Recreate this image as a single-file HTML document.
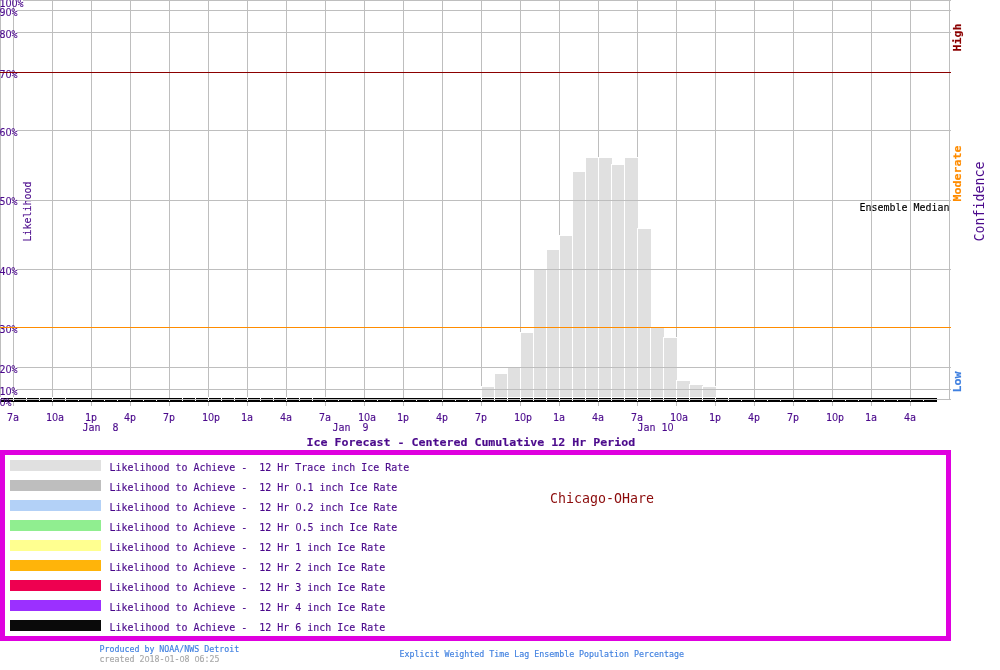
<!DOCTYPE html>
<html lang="en"><head><meta charset="utf-8"><title>Ice Forecast - Chicago-OHare</title>
<style>html,body{margin:0;padding:0;background:#fff;overflow:hidden}svg{display:block;position:absolute;left:0;top:0}text{font-family:'DejaVu Sans Mono','Liberation Mono',monospace;white-space:pre}</style></head><body>
<svg width="1000" height="670" viewBox="0 0 1000 670">
<rect x="0" y="0" width="1000" height="670" fill="#fff"/>
<g shape-rendering="crispEdges">
<rect x="0" y="0" width="1" height="400" fill="#bebebe"/>
<rect x="13" y="0" width="1" height="406" fill="#bebebe"/>
<rect x="52" y="0" width="1" height="406" fill="#bebebe"/>
<rect x="91" y="0" width="1" height="406" fill="#bebebe"/>
<rect x="130" y="0" width="1" height="406" fill="#bebebe"/>
<rect x="169" y="0" width="1" height="406" fill="#bebebe"/>
<rect x="208" y="0" width="1" height="406" fill="#bebebe"/>
<rect x="247" y="0" width="1" height="406" fill="#bebebe"/>
<rect x="286" y="0" width="1" height="406" fill="#bebebe"/>
<rect x="325" y="0" width="1" height="406" fill="#bebebe"/>
<rect x="364" y="0" width="1" height="406" fill="#bebebe"/>
<rect x="403" y="0" width="1" height="406" fill="#bebebe"/>
<rect x="442" y="0" width="1" height="406" fill="#bebebe"/>
<rect x="481" y="0" width="1" height="406" fill="#bebebe"/>
<rect x="520" y="0" width="1" height="406" fill="#bebebe"/>
<rect x="559" y="0" width="1" height="406" fill="#bebebe"/>
<rect x="598" y="0" width="1" height="406" fill="#bebebe"/>
<rect x="637" y="0" width="1" height="406" fill="#bebebe"/>
<rect x="676" y="0" width="1" height="406" fill="#bebebe"/>
<rect x="715" y="0" width="1" height="406" fill="#bebebe"/>
<rect x="754" y="0" width="1" height="406" fill="#bebebe"/>
<rect x="793" y="0" width="1" height="406" fill="#bebebe"/>
<rect x="832" y="0" width="1" height="406" fill="#bebebe"/>
<rect x="871" y="0" width="1" height="406" fill="#bebebe"/>
<rect x="910" y="0" width="1" height="406" fill="#bebebe"/>
<rect x="949" y="0" width="1" height="400" fill="#bebebe"/>
<rect x="0" y="397" width="14" height="1" fill="#fff"/>
<rect x="13" y="397" width="14" height="1" fill="#fff"/>
<rect x="26" y="397" width="14" height="1" fill="#fff"/>
<rect x="39" y="397" width="14" height="1" fill="#fff"/>
<rect x="52" y="397" width="14" height="1" fill="#fff"/>
<rect x="65" y="397" width="14" height="1" fill="#fff"/>
<rect x="182" y="397" width="14" height="1" fill="#fff"/>
<rect x="195" y="397" width="14" height="1" fill="#fff"/>
<rect x="208" y="397" width="14" height="1" fill="#fff"/>
<rect x="221" y="397" width="14" height="1" fill="#fff"/>
<rect x="234" y="397" width="14" height="1" fill="#fff"/>
<rect x="247" y="397" width="14" height="1" fill="#fff"/>
<rect x="260" y="397" width="14" height="1" fill="#fff"/>
<rect x="273" y="397" width="14" height="1" fill="#fff"/>
<rect x="286" y="397" width="14" height="1" fill="#fff"/>
<rect x="299" y="397" width="14" height="1" fill="#fff"/>
<rect x="312" y="397" width="14" height="1" fill="#fff"/>
<rect x="481" y="386" width="1" height="15" fill="#fff"/>
<rect x="481" y="386" width="14" height="1" fill="#fff"/>
<rect x="482" y="387" width="13" height="10" fill="#e0e0e0"/>
<rect x="494" y="373" width="1" height="28" fill="#fff"/>
<rect x="494" y="373" width="14" height="1" fill="#fff"/>
<rect x="495" y="374" width="13" height="23" fill="#e0e0e0"/>
<rect x="507" y="367" width="1" height="34" fill="#fff"/>
<rect x="507" y="367" width="14" height="1" fill="#fff"/>
<rect x="508" y="368" width="13" height="29" fill="#e0e0e0"/>
<rect x="520" y="332" width="1" height="69" fill="#fff"/>
<rect x="520" y="332" width="14" height="1" fill="#fff"/>
<rect x="521" y="333" width="13" height="64" fill="#e0e0e0"/>
<rect x="533" y="269" width="1" height="132" fill="#fff"/>
<rect x="533" y="269" width="14" height="1" fill="#fff"/>
<rect x="534" y="270" width="13" height="127" fill="#e0e0e0"/>
<rect x="546" y="249" width="1" height="152" fill="#fff"/>
<rect x="546" y="249" width="14" height="1" fill="#fff"/>
<rect x="547" y="250" width="13" height="147" fill="#e0e0e0"/>
<rect x="559" y="235" width="1" height="166" fill="#fff"/>
<rect x="559" y="235" width="14" height="1" fill="#fff"/>
<rect x="560" y="236" width="13" height="161" fill="#e0e0e0"/>
<rect x="572" y="171" width="1" height="230" fill="#fff"/>
<rect x="572" y="171" width="14" height="1" fill="#fff"/>
<rect x="573" y="172" width="13" height="225" fill="#e0e0e0"/>
<rect x="585" y="157" width="1" height="244" fill="#fff"/>
<rect x="585" y="157" width="14" height="1" fill="#fff"/>
<rect x="586" y="158" width="13" height="239" fill="#e0e0e0"/>
<rect x="598" y="157" width="1" height="244" fill="#fff"/>
<rect x="598" y="157" width="14" height="1" fill="#fff"/>
<rect x="599" y="158" width="13" height="239" fill="#e0e0e0"/>
<rect x="611" y="164" width="1" height="237" fill="#fff"/>
<rect x="611" y="164" width="14" height="1" fill="#fff"/>
<rect x="612" y="165" width="13" height="232" fill="#e0e0e0"/>
<rect x="624" y="157" width="1" height="244" fill="#fff"/>
<rect x="624" y="157" width="14" height="1" fill="#fff"/>
<rect x="625" y="158" width="13" height="239" fill="#e0e0e0"/>
<rect x="637" y="228" width="1" height="173" fill="#fff"/>
<rect x="637" y="228" width="14" height="1" fill="#fff"/>
<rect x="638" y="229" width="13" height="168" fill="#e0e0e0"/>
<rect x="650" y="327" width="1" height="74" fill="#fff"/>
<rect x="650" y="327" width="14" height="1" fill="#fff"/>
<rect x="651" y="328" width="13" height="69" fill="#e0e0e0"/>
<rect x="663" y="337" width="1" height="64" fill="#fff"/>
<rect x="663" y="337" width="14" height="1" fill="#fff"/>
<rect x="664" y="338" width="13" height="59" fill="#e0e0e0"/>
<rect x="676" y="380" width="1" height="21" fill="#fff"/>
<rect x="676" y="380" width="14" height="1" fill="#fff"/>
<rect x="677" y="381" width="13" height="16" fill="#e0e0e0"/>
<rect x="689" y="384" width="1" height="17" fill="#fff"/>
<rect x="689" y="384" width="14" height="1" fill="#fff"/>
<rect x="690" y="385" width="13" height="12" fill="#e0e0e0"/>
<rect x="702" y="386" width="1" height="15" fill="#fff"/>
<rect x="702" y="386" width="14" height="1" fill="#fff"/>
<rect x="703" y="387" width="13" height="10" fill="#e0e0e0"/>
<rect x="715" y="397" width="14" height="1" fill="#fff"/>
<rect x="728" y="397" width="14" height="1" fill="#fff"/>
</g>
<text transform="translate(31,241.5) rotate(-90) scale(0.9082,1)" font-size="10.974" fill="#4b0a8c" stroke="#4b0a8c" stroke-width="0.15" xml:space="preserve">Likelihood</text>
<g shape-rendering="crispEdges">
<rect x="23" y="0" width="928" height="1" fill="#bebebe"/>
<rect x="17" y="10" width="934" height="1" fill="#bebebe"/>
<rect x="17" y="32" width="934" height="1" fill="#bebebe"/>
<rect x="17" y="130" width="934" height="1" fill="#bebebe"/>
<rect x="17" y="200" width="934" height="1" fill="#bebebe"/>
<rect x="17" y="269" width="934" height="1" fill="#bebebe"/>
<rect x="17" y="367" width="934" height="1" fill="#bebebe"/>
<rect x="17" y="389" width="934" height="1" fill="#bebebe"/>
<rect x="0" y="399" width="951" height="1" fill="#bebebe"/>
</g>
<g shape-rendering="crispEdges">
<rect x="1" y="398" width="936" height="1" fill="#000"/>
<rect x="1" y="400" width="936" height="2" fill="#000"/>
<rect x="0" y="398" width="1" height="1" fill="#fff"/>
<rect x="0" y="400" width="1" height="1" fill="#fff"/>
<rect x="13" y="398" width="1" height="1" fill="#fff"/>
<rect x="13" y="400" width="1" height="1" fill="#fff"/>
<rect x="26" y="398" width="1" height="1" fill="#fff"/>
<rect x="26" y="400" width="1" height="1" fill="#fff"/>
<rect x="39" y="398" width="1" height="1" fill="#fff"/>
<rect x="39" y="400" width="1" height="1" fill="#fff"/>
<rect x="52" y="398" width="1" height="1" fill="#fff"/>
<rect x="52" y="400" width="1" height="1" fill="#fff"/>
<rect x="65" y="398" width="1" height="1" fill="#fff"/>
<rect x="65" y="400" width="1" height="1" fill="#fff"/>
<rect x="78" y="400" width="1" height="1" fill="#fff"/>
<rect x="91" y="400" width="1" height="1" fill="#fff"/>
<rect x="104" y="400" width="1" height="1" fill="#fff"/>
<rect x="117" y="400" width="1" height="1" fill="#fff"/>
<rect x="130" y="400" width="1" height="1" fill="#fff"/>
<rect x="143" y="400" width="1" height="1" fill="#fff"/>
<rect x="156" y="400" width="1" height="1" fill="#fff"/>
<rect x="169" y="400" width="1" height="1" fill="#fff"/>
<rect x="182" y="398" width="1" height="1" fill="#fff"/>
<rect x="182" y="400" width="1" height="1" fill="#fff"/>
<rect x="195" y="398" width="1" height="1" fill="#fff"/>
<rect x="195" y="400" width="1" height="1" fill="#fff"/>
<rect x="208" y="398" width="1" height="1" fill="#fff"/>
<rect x="208" y="400" width="1" height="1" fill="#fff"/>
<rect x="221" y="398" width="1" height="1" fill="#fff"/>
<rect x="221" y="400" width="1" height="1" fill="#fff"/>
<rect x="234" y="398" width="1" height="1" fill="#fff"/>
<rect x="234" y="400" width="1" height="1" fill="#fff"/>
<rect x="247" y="398" width="1" height="1" fill="#fff"/>
<rect x="247" y="400" width="1" height="1" fill="#fff"/>
<rect x="260" y="398" width="1" height="1" fill="#fff"/>
<rect x="260" y="400" width="1" height="1" fill="#fff"/>
<rect x="273" y="398" width="1" height="1" fill="#fff"/>
<rect x="273" y="400" width="1" height="1" fill="#fff"/>
<rect x="286" y="398" width="1" height="1" fill="#fff"/>
<rect x="286" y="400" width="1" height="1" fill="#fff"/>
<rect x="299" y="398" width="1" height="1" fill="#fff"/>
<rect x="299" y="400" width="1" height="1" fill="#fff"/>
<rect x="312" y="398" width="1" height="1" fill="#fff"/>
<rect x="312" y="400" width="1" height="1" fill="#fff"/>
<rect x="325" y="400" width="1" height="1" fill="#fff"/>
<rect x="338" y="400" width="1" height="1" fill="#fff"/>
<rect x="351" y="400" width="1" height="1" fill="#fff"/>
<rect x="364" y="400" width="1" height="1" fill="#fff"/>
<rect x="377" y="400" width="1" height="1" fill="#fff"/>
<rect x="390" y="400" width="1" height="1" fill="#fff"/>
<rect x="403" y="400" width="1" height="1" fill="#fff"/>
<rect x="416" y="400" width="1" height="1" fill="#fff"/>
<rect x="429" y="400" width="1" height="1" fill="#fff"/>
<rect x="442" y="400" width="1" height="1" fill="#fff"/>
<rect x="455" y="400" width="1" height="1" fill="#fff"/>
<rect x="468" y="400" width="1" height="1" fill="#fff"/>
<rect x="481" y="398" width="1" height="1" fill="#fff"/>
<rect x="481" y="400" width="1" height="1" fill="#fff"/>
<rect x="494" y="398" width="1" height="1" fill="#fff"/>
<rect x="494" y="400" width="1" height="1" fill="#fff"/>
<rect x="507" y="398" width="1" height="1" fill="#fff"/>
<rect x="507" y="400" width="1" height="1" fill="#fff"/>
<rect x="520" y="398" width="1" height="1" fill="#fff"/>
<rect x="520" y="400" width="1" height="1" fill="#fff"/>
<rect x="533" y="398" width="1" height="1" fill="#fff"/>
<rect x="533" y="400" width="1" height="1" fill="#fff"/>
<rect x="546" y="398" width="1" height="1" fill="#fff"/>
<rect x="546" y="400" width="1" height="1" fill="#fff"/>
<rect x="559" y="398" width="1" height="1" fill="#fff"/>
<rect x="559" y="400" width="1" height="1" fill="#fff"/>
<rect x="572" y="398" width="1" height="1" fill="#fff"/>
<rect x="572" y="400" width="1" height="1" fill="#fff"/>
<rect x="585" y="398" width="1" height="1" fill="#fff"/>
<rect x="585" y="400" width="1" height="1" fill="#fff"/>
<rect x="598" y="398" width="1" height="1" fill="#fff"/>
<rect x="598" y="400" width="1" height="1" fill="#fff"/>
<rect x="611" y="398" width="1" height="1" fill="#fff"/>
<rect x="611" y="400" width="1" height="1" fill="#fff"/>
<rect x="624" y="398" width="1" height="1" fill="#fff"/>
<rect x="624" y="400" width="1" height="1" fill="#fff"/>
<rect x="637" y="398" width="1" height="1" fill="#fff"/>
<rect x="637" y="400" width="1" height="1" fill="#fff"/>
<rect x="650" y="398" width="1" height="1" fill="#fff"/>
<rect x="650" y="400" width="1" height="1" fill="#fff"/>
<rect x="663" y="398" width="1" height="1" fill="#fff"/>
<rect x="663" y="400" width="1" height="1" fill="#fff"/>
<rect x="676" y="398" width="1" height="1" fill="#fff"/>
<rect x="676" y="400" width="1" height="1" fill="#fff"/>
<rect x="689" y="398" width="1" height="1" fill="#fff"/>
<rect x="689" y="400" width="1" height="1" fill="#fff"/>
<rect x="702" y="398" width="1" height="1" fill="#fff"/>
<rect x="702" y="400" width="1" height="1" fill="#fff"/>
<rect x="715" y="398" width="1" height="1" fill="#fff"/>
<rect x="715" y="400" width="1" height="1" fill="#fff"/>
<rect x="728" y="398" width="1" height="1" fill="#fff"/>
<rect x="728" y="400" width="1" height="1" fill="#fff"/>
<rect x="741" y="400" width="1" height="1" fill="#fff"/>
<rect x="754" y="400" width="1" height="1" fill="#fff"/>
<rect x="767" y="400" width="1" height="1" fill="#fff"/>
<rect x="780" y="400" width="1" height="1" fill="#fff"/>
<rect x="793" y="400" width="1" height="1" fill="#fff"/>
<rect x="806" y="400" width="1" height="1" fill="#fff"/>
<rect x="819" y="400" width="1" height="1" fill="#fff"/>
<rect x="832" y="400" width="1" height="1" fill="#fff"/>
<rect x="845" y="400" width="1" height="1" fill="#fff"/>
<rect x="858" y="400" width="1" height="1" fill="#fff"/>
<rect x="871" y="400" width="1" height="1" fill="#fff"/>
<rect x="884" y="400" width="1" height="1" fill="#fff"/>
<rect x="897" y="400" width="1" height="1" fill="#fff"/>
<rect x="910" y="400" width="1" height="1" fill="#fff"/>
<rect x="923" y="400" width="1" height="1" fill="#fff"/>
</g>
<text transform="translate(-0.5,7) scale(0.9082,1)" font-size="10.974" fill="#4b0a8c" stroke="#4b0a8c" stroke-width="0.15" xml:space="preserve">1<tspan x="6.802" font-family="'Liberation Sans','DejaVu Sans',sans-serif" font-size="11.173">0</tspan><tspan x="13.409" font-family="'Liberation Sans','DejaVu Sans',sans-serif" font-size="11.173">0</tspan><tspan x="19.819">%</tspan></text>
<text transform="translate(-0.5,16) scale(0.9082,1)" font-size="10.974" fill="#4b0a8c" stroke="#4b0a8c" stroke-width="0.15" xml:space="preserve">9<tspan x="6.802" font-family="'Liberation Sans','DejaVu Sans',sans-serif" font-size="11.173">0</tspan><tspan x="13.213">%</tspan></text>
<text transform="translate(-0.5,38) scale(0.9082,1)" font-size="10.974" fill="#4b0a8c" stroke="#4b0a8c" stroke-width="0.15" xml:space="preserve">8<tspan x="6.802" font-family="'Liberation Sans','DejaVu Sans',sans-serif" font-size="11.173">0</tspan><tspan x="13.213">%</tspan></text>
<text transform="translate(-0.5,78) scale(0.9082,1)" font-size="10.974" fill="#4b0a8c" stroke="#4b0a8c" stroke-width="0.15" xml:space="preserve">7<tspan x="6.802" font-family="'Liberation Sans','DejaVu Sans',sans-serif" font-size="11.173">0</tspan><tspan x="13.213">%</tspan></text>
<text transform="translate(-0.5,136) scale(0.9082,1)" font-size="10.974" fill="#4b0a8c" stroke="#4b0a8c" stroke-width="0.15" xml:space="preserve">6<tspan x="6.802" font-family="'Liberation Sans','DejaVu Sans',sans-serif" font-size="11.173">0</tspan><tspan x="13.213">%</tspan></text>
<text transform="translate(-0.5,205) scale(0.9082,1)" font-size="10.974" fill="#4b0a8c" stroke="#4b0a8c" stroke-width="0.15" xml:space="preserve">5<tspan x="6.802" font-family="'Liberation Sans','DejaVu Sans',sans-serif" font-size="11.173">0</tspan><tspan x="13.213">%</tspan></text>
<text transform="translate(-0.5,275) scale(0.9082,1)" font-size="10.974" fill="#4b0a8c" stroke="#4b0a8c" stroke-width="0.15" xml:space="preserve">4<tspan x="6.802" font-family="'Liberation Sans','DejaVu Sans',sans-serif" font-size="11.173">0</tspan><tspan x="13.213">%</tspan></text>
<text transform="translate(-0.5,333) scale(0.9082,1)" font-size="10.974" fill="#4b0a8c" stroke="#4b0a8c" stroke-width="0.15" xml:space="preserve">3<tspan x="6.802" font-family="'Liberation Sans','DejaVu Sans',sans-serif" font-size="11.173">0</tspan><tspan x="13.213">%</tspan></text>
<text transform="translate(-0.5,373) scale(0.9082,1)" font-size="10.974" fill="#4b0a8c" stroke="#4b0a8c" stroke-width="0.15" xml:space="preserve">2<tspan x="6.802" font-family="'Liberation Sans','DejaVu Sans',sans-serif" font-size="11.173">0</tspan><tspan x="13.213">%</tspan></text>
<text transform="translate(-0.5,395) scale(0.9082,1)" font-size="10.974" fill="#4b0a8c" stroke="#4b0a8c" stroke-width="0.15" xml:space="preserve">1<tspan x="6.802" font-family="'Liberation Sans','DejaVu Sans',sans-serif" font-size="11.173">0</tspan><tspan x="13.213">%</tspan></text>
<text transform="translate(-0.5,406) scale(0.9082,1)" font-size="10.974" fill="#4b0a8c" stroke="#4b0a8c" stroke-width="0.15" xml:space="preserve"><tspan x="0.196" font-family="'Liberation Sans','DejaVu Sans',sans-serif" font-size="11.173">0</tspan><tspan x="6.606">%</tspan></text>
<g shape-rendering="crispEdges">
<rect x="0" y="72" width="951" height="1" fill="#8b0000"/>
<rect x="0" y="327" width="951" height="1" fill="#ff8c00"/>
<rect x="0" y="450" width="951" height="5" fill="#df00df"/>
<rect x="0" y="636" width="951" height="5" fill="#df00df"/>
<rect x="0" y="450" width="5" height="191" fill="#df00df"/>
<rect x="946" y="450" width="5" height="191" fill="#df00df"/>
<rect x="10" y="460" width="91" height="11" fill="#e0e0e0"/>
<rect x="10" y="480" width="91" height="11" fill="#bebebe"/>
<rect x="10" y="500" width="91" height="11" fill="#b3d1f7"/>
<rect x="10" y="520" width="91" height="11" fill="#90ee90"/>
<rect x="10" y="540" width="91" height="11" fill="#ffff90"/>
<rect x="10" y="560" width="91" height="11" fill="#ffb40a"/>
<rect x="10" y="580" width="91" height="11" fill="#ee0050"/>
<rect x="10" y="600" width="91" height="11" fill="#9b30ff"/>
<rect x="10" y="620" width="91" height="11" fill="#0a0a0a"/>
</g>
<text transform="translate(7.0,421) scale(0.9082,1)" font-size="10.974" fill="#4b0a8c" stroke="#4b0a8c" stroke-width="0.15" xml:space="preserve">7a</text>
<text transform="translate(46.0,421) scale(0.9082,1)" font-size="10.974" fill="#4b0a8c" stroke="#4b0a8c" stroke-width="0.15" xml:space="preserve">1<tspan x="6.802" font-family="'Liberation Sans','DejaVu Sans',sans-serif" font-size="11.173">0</tspan><tspan x="13.213">a</tspan></text>
<text transform="translate(85.0,421) scale(0.9082,1)" font-size="10.974" fill="#4b0a8c" stroke="#4b0a8c" stroke-width="0.15" xml:space="preserve">1p</text>
<text transform="translate(124.0,421) scale(0.9082,1)" font-size="10.974" fill="#4b0a8c" stroke="#4b0a8c" stroke-width="0.15" xml:space="preserve">4p</text>
<text transform="translate(163.0,421) scale(0.9082,1)" font-size="10.974" fill="#4b0a8c" stroke="#4b0a8c" stroke-width="0.15" xml:space="preserve">7p</text>
<text transform="translate(202.0,421) scale(0.9082,1)" font-size="10.974" fill="#4b0a8c" stroke="#4b0a8c" stroke-width="0.15" xml:space="preserve">1<tspan x="6.802" font-family="'Liberation Sans','DejaVu Sans',sans-serif" font-size="11.173">0</tspan><tspan x="13.213">p</tspan></text>
<text transform="translate(241.0,421) scale(0.9082,1)" font-size="10.974" fill="#4b0a8c" stroke="#4b0a8c" stroke-width="0.15" xml:space="preserve">1a</text>
<text transform="translate(280.0,421) scale(0.9082,1)" font-size="10.974" fill="#4b0a8c" stroke="#4b0a8c" stroke-width="0.15" xml:space="preserve">4a</text>
<text transform="translate(319.0,421) scale(0.9082,1)" font-size="10.974" fill="#4b0a8c" stroke="#4b0a8c" stroke-width="0.15" xml:space="preserve">7a</text>
<text transform="translate(358.0,421) scale(0.9082,1)" font-size="10.974" fill="#4b0a8c" stroke="#4b0a8c" stroke-width="0.15" xml:space="preserve">1<tspan x="6.802" font-family="'Liberation Sans','DejaVu Sans',sans-serif" font-size="11.173">0</tspan><tspan x="13.213">a</tspan></text>
<text transform="translate(397.0,421) scale(0.9082,1)" font-size="10.974" fill="#4b0a8c" stroke="#4b0a8c" stroke-width="0.15" xml:space="preserve">1p</text>
<text transform="translate(436.0,421) scale(0.9082,1)" font-size="10.974" fill="#4b0a8c" stroke="#4b0a8c" stroke-width="0.15" xml:space="preserve">4p</text>
<text transform="translate(475.0,421) scale(0.9082,1)" font-size="10.974" fill="#4b0a8c" stroke="#4b0a8c" stroke-width="0.15" xml:space="preserve">7p</text>
<text transform="translate(514.0,421) scale(0.9082,1)" font-size="10.974" fill="#4b0a8c" stroke="#4b0a8c" stroke-width="0.15" xml:space="preserve">1<tspan x="6.802" font-family="'Liberation Sans','DejaVu Sans',sans-serif" font-size="11.173">0</tspan><tspan x="13.213">p</tspan></text>
<text transform="translate(553.0,421) scale(0.9082,1)" font-size="10.974" fill="#4b0a8c" stroke="#4b0a8c" stroke-width="0.15" xml:space="preserve">1a</text>
<text transform="translate(592.0,421) scale(0.9082,1)" font-size="10.974" fill="#4b0a8c" stroke="#4b0a8c" stroke-width="0.15" xml:space="preserve">4a</text>
<text transform="translate(631.0,421) scale(0.9082,1)" font-size="10.974" fill="#4b0a8c" stroke="#4b0a8c" stroke-width="0.15" xml:space="preserve">7a</text>
<text transform="translate(670.0,421) scale(0.9082,1)" font-size="10.974" fill="#4b0a8c" stroke="#4b0a8c" stroke-width="0.15" xml:space="preserve">1<tspan x="6.802" font-family="'Liberation Sans','DejaVu Sans',sans-serif" font-size="11.173">0</tspan><tspan x="13.213">a</tspan></text>
<text transform="translate(709.0,421) scale(0.9082,1)" font-size="10.974" fill="#4b0a8c" stroke="#4b0a8c" stroke-width="0.15" xml:space="preserve">1p</text>
<text transform="translate(748.0,421) scale(0.9082,1)" font-size="10.974" fill="#4b0a8c" stroke="#4b0a8c" stroke-width="0.15" xml:space="preserve">4p</text>
<text transform="translate(787.0,421) scale(0.9082,1)" font-size="10.974" fill="#4b0a8c" stroke="#4b0a8c" stroke-width="0.15" xml:space="preserve">7p</text>
<text transform="translate(826.0,421) scale(0.9082,1)" font-size="10.974" fill="#4b0a8c" stroke="#4b0a8c" stroke-width="0.15" xml:space="preserve">1<tspan x="6.802" font-family="'Liberation Sans','DejaVu Sans',sans-serif" font-size="11.173">0</tspan><tspan x="13.213">p</tspan></text>
<text transform="translate(865.0,421) scale(0.9082,1)" font-size="10.974" fill="#4b0a8c" stroke="#4b0a8c" stroke-width="0.15" xml:space="preserve">1a</text>
<text transform="translate(904.0,421) scale(0.9082,1)" font-size="10.974" fill="#4b0a8c" stroke="#4b0a8c" stroke-width="0.15" xml:space="preserve">4a</text>
<text transform="translate(82.5,431) scale(0.9082,1)" font-size="10.974" fill="#4b0a8c" stroke="#4b0a8c" stroke-width="0.15" xml:space="preserve">Jan  8</text>
<text transform="translate(332.5,431) scale(0.9082,1)" font-size="10.974" fill="#4b0a8c" stroke="#4b0a8c" stroke-width="0.15" xml:space="preserve">Jan  9</text>
<text transform="translate(637.5,431) scale(0.9082,1)" font-size="10.974" fill="#4b0a8c" stroke="#4b0a8c" stroke-width="0.15" xml:space="preserve">Jan 1<tspan x="33.227" font-family="'Liberation Sans','DejaVu Sans',sans-serif" font-size="11.173">0</tspan></text>
<text transform="translate(306.5,446) scale(1.0596,1)" font-size="10.974" fill="#4b0a8c" font-weight="bold" stroke="#4b0a8c" stroke-width="0.15" xml:space="preserve">Ice Forecast - Centered Cumulative 12 Hr Period</text>
<text transform="translate(961,51.5) rotate(-90) scale(1.0596,1)" font-size="10.974" fill="#8b0000" font-weight="bold" stroke="#8b0000" stroke-width="0.15" xml:space="preserve">High</text>
<text transform="translate(961,201.5) rotate(-90) scale(1.0596,1)" font-size="10.974" fill="#ff8c00" font-weight="bold" stroke="#ff8c00" stroke-width="0.15" xml:space="preserve">Moderate</text>
<text transform="translate(961,392.5) rotate(-90) scale(1.0596,1)" font-size="10.974" fill="#4080e0" font-weight="bold" stroke="#4080e0" stroke-width="0.15" xml:space="preserve">Low</text>
<text transform="translate(983.5,241.5) rotate(-90) scale(0.9688,1)" font-size="13.717" fill="#4b0a8c" xml:space="preserve">Confidence</text>
<text transform="translate(859.5,211) scale(0.9082,1)" font-size="10.974" fill="#000" stroke="#000" stroke-width="0.15" xml:space="preserve">Ensemble Median</text>
<text transform="translate(109.5,471) scale(0.9082,1)" font-size="10.974" fill="#4b0a8c" stroke="#4b0a8c" stroke-width="0.15" xml:space="preserve">Likelihood to Achieve -  12 Hr Trace inch Ice Rate</text>
<text transform="translate(109.5,491) scale(0.9082,1)" font-size="10.974" fill="#4b0a8c" stroke="#4b0a8c" stroke-width="0.15" xml:space="preserve">Likelihood to Achieve -  12 Hr <tspan x="204.992" font-family="'Liberation Sans','DejaVu Sans',sans-serif" font-size="11.173">0</tspan><tspan x="211.402">.1 inch Ice Rate</tspan></text>
<text transform="translate(109.5,511) scale(0.9082,1)" font-size="10.974" fill="#4b0a8c" stroke="#4b0a8c" stroke-width="0.15" xml:space="preserve">Likelihood to Achieve -  12 Hr <tspan x="204.992" font-family="'Liberation Sans','DejaVu Sans',sans-serif" font-size="11.173">0</tspan><tspan x="211.402">.2 inch Ice Rate</tspan></text>
<text transform="translate(109.5,531) scale(0.9082,1)" font-size="10.974" fill="#4b0a8c" stroke="#4b0a8c" stroke-width="0.15" xml:space="preserve">Likelihood to Achieve -  12 Hr <tspan x="204.992" font-family="'Liberation Sans','DejaVu Sans',sans-serif" font-size="11.173">0</tspan><tspan x="211.402">.5 inch Ice Rate</tspan></text>
<text transform="translate(109.5,551) scale(0.9082,1)" font-size="10.974" fill="#4b0a8c" stroke="#4b0a8c" stroke-width="0.15" xml:space="preserve">Likelihood to Achieve -  12 Hr 1 inch Ice Rate</text>
<text transform="translate(109.5,571) scale(0.9082,1)" font-size="10.974" fill="#4b0a8c" stroke="#4b0a8c" stroke-width="0.15" xml:space="preserve">Likelihood to Achieve -  12 Hr 2 inch Ice Rate</text>
<text transform="translate(109.5,591) scale(0.9082,1)" font-size="10.974" fill="#4b0a8c" stroke="#4b0a8c" stroke-width="0.15" xml:space="preserve">Likelihood to Achieve -  12 Hr 3 inch Ice Rate</text>
<text transform="translate(109.5,611) scale(0.9082,1)" font-size="10.974" fill="#4b0a8c" stroke="#4b0a8c" stroke-width="0.15" xml:space="preserve">Likelihood to Achieve -  12 Hr 4 inch Ice Rate</text>
<text transform="translate(109.5,631) scale(0.9082,1)" font-size="10.974" fill="#4b0a8c" stroke="#4b0a8c" stroke-width="0.15" xml:space="preserve">Likelihood to Achieve -  12 Hr 6 inch Ice Rate</text>
<text transform="translate(550,503) scale(0.9688,1)" font-size="13.717" fill="#8b0a0a" xml:space="preserve">Chicago-OHare</text>
<text transform="translate(99.5,652) scale(1.0091,1)" font-size="8.230" fill="#4080e0" stroke="#4080e0" stroke-width="0.15" xml:space="preserve">Produced by NOAA/NWS Detroit</text>
<text transform="translate(99.5,662) scale(1.0091,1)" font-size="8.230" fill="#a8a8a8" stroke="#a8a8a8" stroke-width="0.15" xml:space="preserve">created 2<tspan x="44.740" font-family="'Liberation Sans','DejaVu Sans',sans-serif" font-size="8.380">0</tspan><tspan x="49.547">18-</tspan><tspan x="64.558" font-family="'Liberation Sans','DejaVu Sans',sans-serif" font-size="8.380">0</tspan><tspan x="69.366">1-</tspan><tspan x="79.423" font-family="'Liberation Sans','DejaVu Sans',sans-serif" font-size="8.380">0</tspan><tspan x="84.230">8 </tspan><tspan x="94.287" font-family="'Liberation Sans','DejaVu Sans',sans-serif" font-size="8.380">0</tspan><tspan x="99.095">6:25</tspan></text>
<text transform="translate(399.5,657) scale(1.0091,1)" font-size="8.230" fill="#4080e0" stroke="#4080e0" stroke-width="0.15" xml:space="preserve">Explicit Weighted Time Lag Ensemble Population Percentage</text>
</svg></body></html>
